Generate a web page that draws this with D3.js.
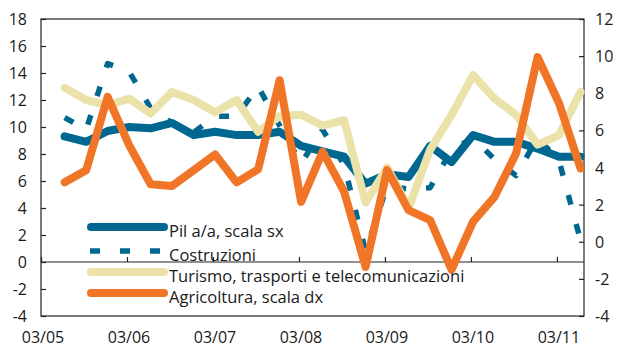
<!DOCTYPE html>
<html>
<head>
<meta charset="utf-8">
<script src="https://cdn.jsdelivr.net/npm/d3@7"></script>
<style>
  body { margin: 0; background: #fff; }
  text { font-family: "Open Sans", sans-serif; fill: #1a1a1a; }
</style>
</head>
<body>
<svg id="chart" width="619" height="351"></svg>
<script>
// Quarterly observations, 06/05 .. 06/11
const quarters = ["06/05","09/05","12/05","03/06","06/06","09/06","12/06","03/07","06/07","09/07","12/07",
  "03/08","06/08","09/08","12/08","03/09","06/09","09/09","12/09","03/10","06/10","09/10","12/10","03/11","06/11"];

// Left scale (%)
const pil = [9.3, 8.9, 9.7, 10.0, 9.9, 10.3, 9.4, 9.65, 9.4, 9.4, 9.65, 8.6, 8.2, 7.8, 5.8, 6.5, 6.3, 8.6, 7.4, 9.4, 8.9, 8.9, 8.4, 7.8, 7.8];
const costruzioni = [10.7, 9.8, 14.7, 14.1, 11.4, 10.3, 9.6, 10.8, 10.8, 13.0, 10.1, 7.3, 9.8, 7.2, 0.8, 5.6, 5.4, 5.5, 8.3, 9.2, 7.6, 6.4, 9.2, 7.5, 1.6];
const turismo = [12.9, 12.0, 11.6, 12.1, 11.0, 12.6, 12.0, 11.1, 12.0, 9.65, 10.8, 10.9, 10.1, 10.5, 4.4, 7.0, 4.0, 8.3, 10.9, 13.85, 12.1, 10.9, 8.7, 9.4, 12.6];
// Right scale (%)
const agricoltura = [3.2, 3.85, 7.8, 5.2, 3.1, 3.0, 3.85, 4.7, 3.2, 3.9, 8.7, 2.15, 4.85, 2.7, -1.35, 3.86, 1.7, 1.17, -1.5, 1.08, 2.42, 4.76, 9.95, 7.46, 3.95];

const xTickLabels = ["03/05","03/06","03/07","03/08","03/09","03/10","03/11"];
const leftTicks = [-4,-2,0,2,4,6,8,10,12,14,16,18];
const rightTicks = [-4,-2,0,2,4,6,8,10,12];
const legendLabels = ["Pil a/a, scala sx", "Costruzioni", "Turismo, trasporti e telecomunicazioni", "Agricoltura, scala dx"];

const colors = { pil: "#006890", costr: "#006890", tur: "#ebe2a9", agr: "#f07526" };

const svg = d3.select("#chart");
const L = 41, R = 584, T = 19, B = 316;

// x in quarters counted from 03/05
const x = d3.scaleLinear().domain([0, 25.26]).range([L, R]);
const pointOffset = 1.1;
const yL = d3.scaleLinear().domain([-4, 18]).range([B, T]);
const yR = d3.scaleLinear().domain([-4, 12]).range([B, T]);

// frame
const frame = svg.append("g").attr("stroke", "#222").attr("stroke-width", 1.2).attr("fill", "none");
frame.append("rect").attr("x", L).attr("y", T).attr("width", R - L).attr("height", B - T);

// zero line of left scale with x ticks
svg.append("line").attr("x1", L).attr("x2", R).attr("y1", yL(0)).attr("y2", yL(0))
  .attr("stroke", "#222").attr("stroke-width", 1.2);

const xAxis = d3.axisTop(x).tickValues(d3.range(0, 25, 4)).tickSize(5).tickFormat("");
svg.append("g").attr("transform", `translate(0,${yL(0)})`).call(xAxis)
  .call(g => g.select(".domain").remove())
  .call(g => g.selectAll("line").attr("stroke", "#222").attr("stroke-width", 1.2));

svg.append("g").selectAll("text").data(xTickLabels).join("text")
  .attr("x", (d, i) => x(i * 4) + 2).attr("y", 337)
  .attr("text-anchor", "middle").attr("dominant-baseline", "central")
  .attr("font-size", 16).text(d => d);

// left axis
const leftAxis = d3.axisRight(yL).tickValues(leftTicks).tickSize(5).tickFormat("");
svg.append("g").attr("transform", `translate(${L},0)`).call(leftAxis)
  .call(g => g.select(".domain").remove())
  .call(g => g.selectAll("line").attr("stroke", "#222").attr("stroke-width", 1.2));
svg.append("g").selectAll("text").data(leftTicks).join("text")
  .attr("x", 27).attr("y", d => yL(d)).attr("text-anchor", "end").attr("dominant-baseline", "central")
  .attr("font-size", 16).text(d => d);

// right axis
const rightAxis = d3.axisLeft(yR).tickValues(rightTicks).tickSize(5).tickFormat("");
svg.append("g").attr("transform", `translate(${R},0)`).call(rightAxis)
  .call(g => g.select(".domain").remove())
  .call(g => g.selectAll("line").attr("stroke", "#222").attr("stroke-width", 1.2));
svg.append("g").selectAll("text").data(rightTicks).join("text")
  .attr("x", 595).attr("y", d => yR(d)).attr("text-anchor", "start").attr("dominant-baseline", "central")
  .attr("font-size", 16).text(d => d);

// series
const lineL = d3.line().x((d, i) => x(i + pointOffset)).y(d => yL(d));
const lineR = d3.line().x((d, i) => x(i + pointOffset)).y(d => yR(d));

svg.append("path").datum(pil).attr("d", lineL).attr("fill", "none")
  .attr("stroke", colors.pil).attr("stroke-width", 8).attr("stroke-linejoin", "round").attr("stroke-linecap", "round");
svg.append("path").datum(costruzioni).attr("d", lineL).attr("fill", "none")
  .attr("stroke", colors.costr).attr("stroke-width", 5.5).attr("stroke-dasharray", "10,20").attr("stroke-linejoin", "round");
svg.append("path").datum(turismo).attr("d", lineL).attr("fill", "none")
  .attr("stroke", colors.tur).attr("stroke-width", 8).attr("stroke-linejoin", "round").attr("stroke-linecap", "round");
svg.append("path").datum(agricoltura).attr("d", lineR).attr("fill", "none")
  .attr("stroke", colors.agr).attr("stroke-width", 8).attr("stroke-linejoin", "round").attr("stroke-linecap", "round");

// legend
const legend = svg.append("g");
const legendRows = [
  { y: 227, color: colors.pil, w: 8, dash: null, cap: "round" },
  { y: 251, color: colors.costr, w: 5.5, dash: "10,20", cap: "butt" },
  { y: 272, color: colors.tur, w: 8, dash: null, cap: "round" },
  { y: 293, color: colors.agr, w: 8, dash: null, cap: "round" }
];
legendRows.forEach((r, i) => {
  legend.append("line")
    .attr("x1", r.cap === "round" ? 91 : 90).attr("x2", r.cap === "round" ? 164 : 163)
    .attr("y1", r.y).attr("y2", r.y)
    .attr("stroke", r.color).attr("stroke-width", r.w).attr("stroke-linecap", r.cap)
    .attr("stroke-dasharray", r.dash);
  legend.append("text").attr("x", 169).attr("y", r.y + 10)
    .attr("font-size", 16.5).text(legendLabels[i]);
});
</script>
</body>
</html>
